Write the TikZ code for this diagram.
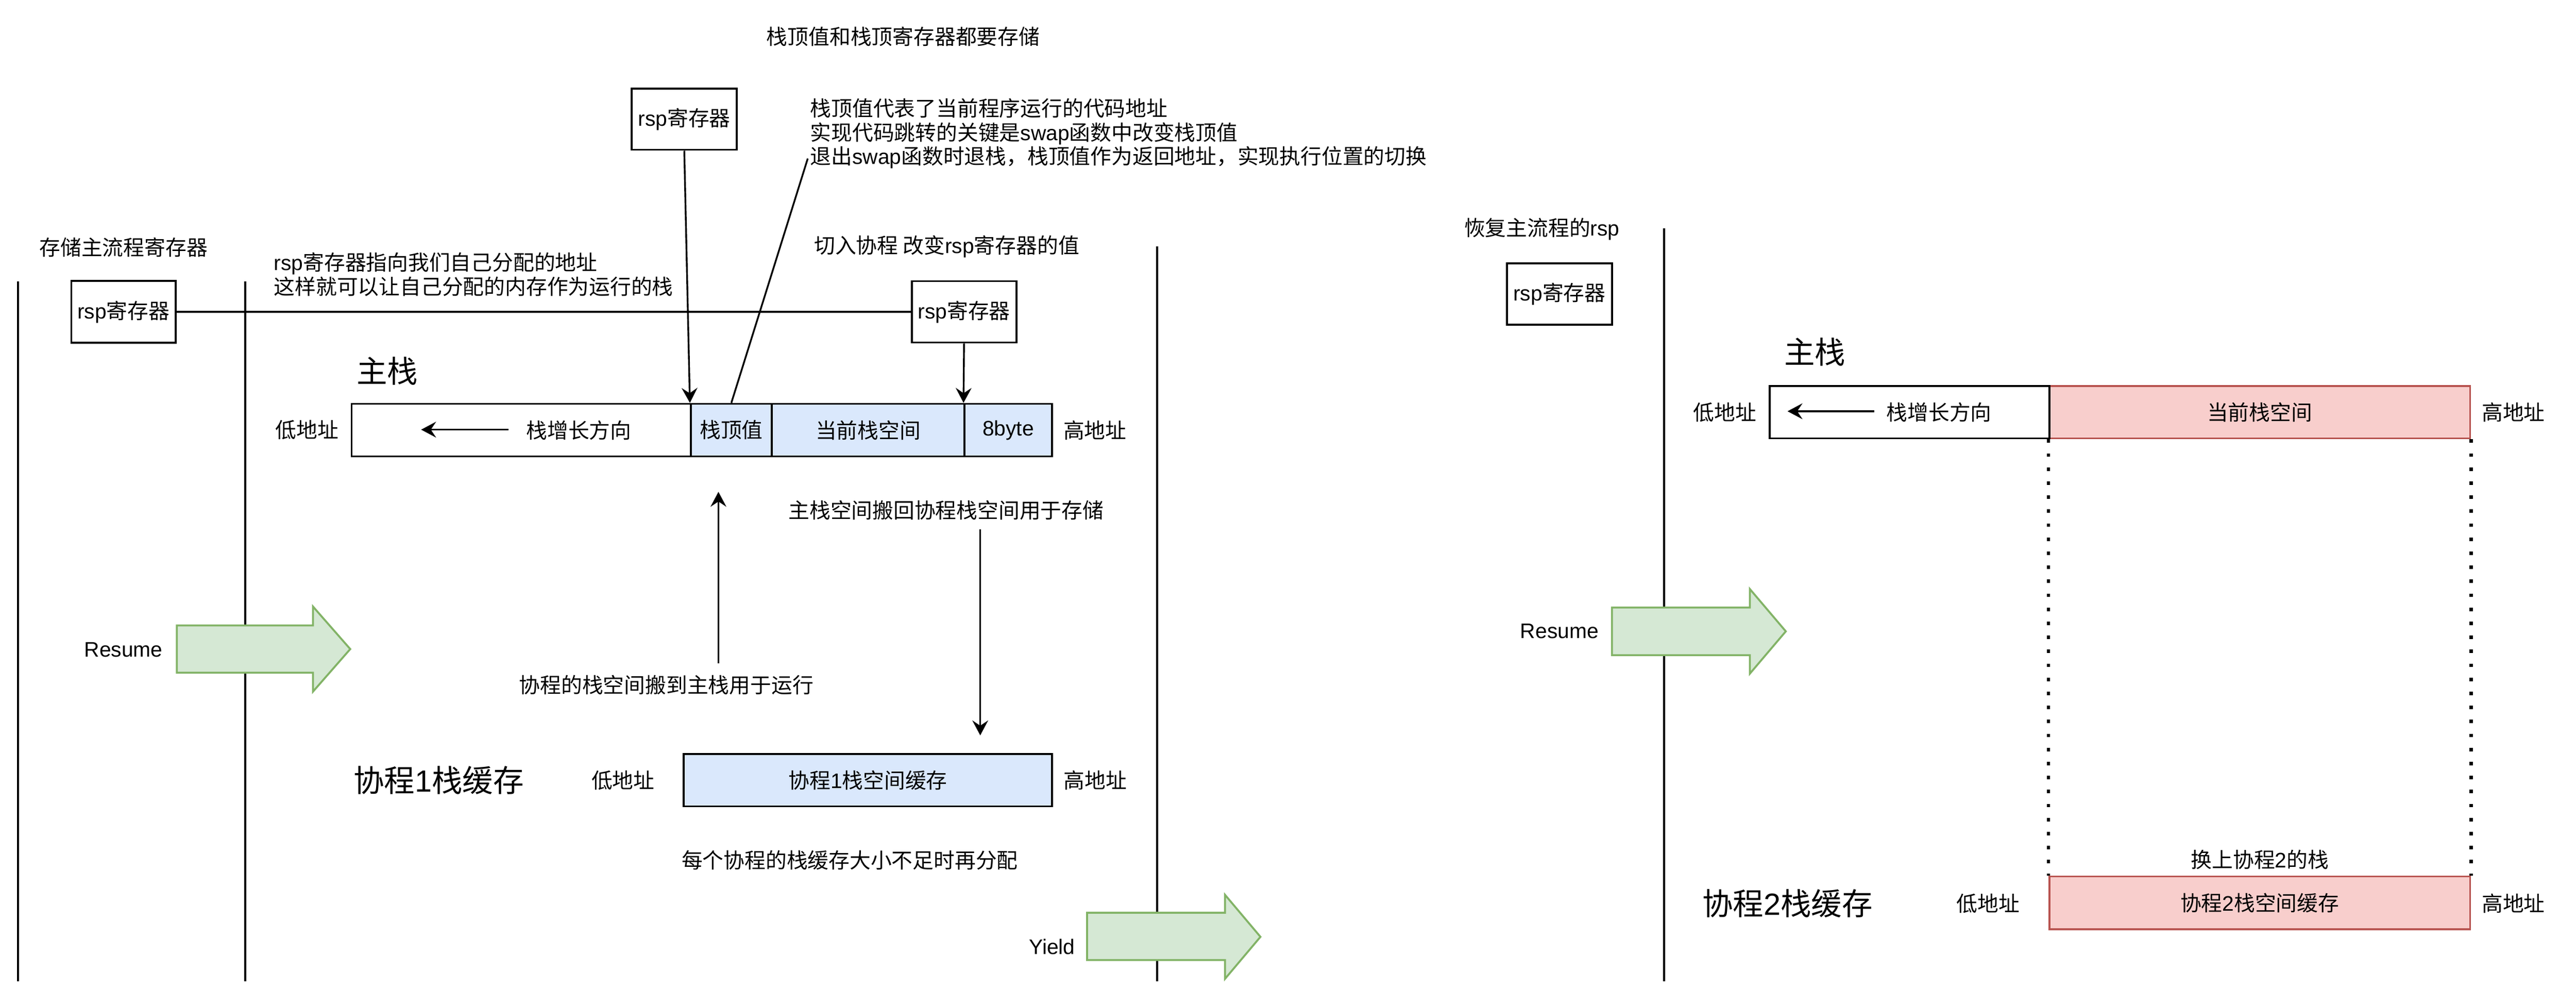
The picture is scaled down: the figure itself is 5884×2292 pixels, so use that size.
\documentclass[tikz,border=0pt]{standalone}
\usepackage{fontspec}
\setmainfont{Noto Sans CJK SC}
\newfontfamily\latfont{Liberation Sans}
\usetikzlibrary{arrows.meta}
\newcommand\LS[1]{{\latfont #1}}
\definecolor{bluefill}{HTML}{DAE8FC}
\definecolor{redfill}{HTML}{F8CECC}
\definecolor{redline}{HTML}{B85450}
\definecolor{greenfill}{HTML}{D5E8D4}
\definecolor{greenline}{HTML}{82B366}
\begin{document}
\begin{tikzpicture}[x=0.25pt,y=-0.25pt,
  txt/.style={inner sep=0pt, font=\fontsize{12}{13.75}\selectfont, align=center},
  lefttxt/.style={inner sep=0pt, font=\fontsize{12}{13.75}\selectfont, align=left, anchor=west},
  big/.style={inner sep=0pt, font=\fontsize{17.5}{21}\selectfont},
  cell/.style={draw, line width=1.1pt, inner sep=0pt, font=\fontsize{12}{14}\selectfont},
  wh/.style 2 args={minimum width=#1*0.25pt, minimum height=#2*0.25pt},
  conn/.style={line width=1pt},
  arr/.style={line width=1pt, -{Stealth[length=8.5pt,width=9pt,inset=3pt]}},
  garrow/.style={fill=greenfill, draw=greenline, line width=1.1pt},
  dotline/.style={line width=2pt, dash pattern=on 2pt off 6pt}
]
\useasboundingbox (0,0) rectangle (5884,2292);

% ---------------- vertical separators ----------------
\coordinate (v1t) at (41,642);   \coordinate (v1b) at (41,2240);
\coordinate (v2t) at (560,642);  \coordinate (v2b) at (560,2240);
\coordinate (v3t) at (2643,562); \coordinate (v3b) at (2643,2240);
\coordinate (v4t) at (3801,521); \coordinate (v4b) at (3801,2240);
\draw[conn] (v1t) -- (v1b);
\draw[conn] (v2t) -- (v2b);
\draw[conn] (v3t) -- (v3b);
\draw[conn] (v4t) -- (v4b);

% ---------------- left part: texts ----------------
\node[txt] (title) at (2063,84) {栈顶值和栈顶寄存器都要存储};
\node[lefttxt] (note) at (1850,305) {栈顶值代表了当前程序运行的代码地址\\实现代码跳转的关键是\LS{swap}函数中改变栈顶值\\退出\LS{swap}函数时退栈，栈顶值作为返回地址，实现执行位置的切换};
\node[txt] (savemain) at (282,565) {存储主流程寄存器};
\node[lefttxt] (rspnote) at (625,627) {\LS{rsp}寄存器指向我们自己分配的地址\\这样就可以让自己分配的内存作为运行的栈};
\node[lefttxt] (switchin) at (1859,563) {切入协程 改变\LS{rsp}寄存器的值};

% rsp boxes
\node[cell, wh={240}{140}] (rspT) at (1563,272) {\LS{rsp}寄存器};
\node[cell, wh={238}{141}] (rspL) at (282,712) {\LS{rsp}寄存器};
\node[cell, wh={239}{140}] (rspR) at (2202,712) {\LS{rsp}寄存器};

% main stack
\node[big, anchor=west] (mainlbl) at (814,847) {主栈};
\node[cell, wh={775}{120}, fill=white] (s1) at (1190.5,982) {};
\node[cell, wh={185}{120}, fill=bluefill] (s2) at (1670.5,982) {栈顶值};
\node[cell, wh={440}{120}, fill=bluefill] (s3) at (1983,982) {当前栈空间};
\node[cell, wh={200}{120}, fill=bluefill] (s4) at (2303,982) {\LS{8byte}};
\node[txt] (growL) at (1322,982) {栈增长方向};
\node[txt] (lowL) at (701,982) {低地址};
\node[txt] (highL) at (2501,982) {高地址};
\coordinate (ga1) at (1161,981); \coordinate (ga2) at (962,981);
\draw[arr] (ga1) -- (ga2);

% connectors
\draw[conn] (rspL.east) -- (rspR.west);
\draw[arr] (rspT.south) -- (s2.north west);
\draw[arr] (rspR.south) -- (s4.north west);
\coordinate (noteend) at (1845,362);
\draw[conn] (noteend) -- (s2.north);

% copy arrows
\coordinate (upS) at (1641,1514); \coordinate (upE) at (1641,1123);
\draw[arr] (upS) -- (upE);
\coordinate (dnS) at (2239,1209); \coordinate (dnE) at (2239,1679);
\draw[arr] (dnS) -- (dnE);
\node[txt] (backnote) at (2161,1165) {主栈空间搬回协程栈空间用于存储};
\node[txt] (runnote) at (1522,1564) {协程的栈空间搬到主栈用于运行};

% resume arrow 1
\draw[garrow] (404,1428) -- (715,1428) -- (715,1385) -- (800,1482) -- (715,1579) -- (715,1536) -- (404,1536) -- cycle;
\node[txt] (resume1) at (282,1484) {\LS{Resume}};

% coroutine 1 cache
\node[big] (co1lbl) at (1002,1782) {协程\LS{1}栈缓存};
\node[txt] (lowC1) at (1423,1782) {低地址};
\node[cell, wh={841}{119}, fill=bluefill] (c1) at (1982.5,1781.5) {协程\LS{1}栈空间缓存};
\node[txt] (highC1) at (2502,1782) {高地址};
\node[txt] (realloc) at (1941,1964) {每个协程的栈缓存大小不足时再分配};

% yield arrow
\draw[garrow] (2483,2084) -- (2798,2084) -- (2798,2043) -- (2879,2139) -- (2798,2235) -- (2798,2192) -- (2483,2192) -- cycle;
\node[txt] (yield) at (2403,2162) {\LS{Yield}};

% ---------------- right part ----------------
\node[txt] (restore) at (3522,523) {恢复主流程的\LS{rsp}};
\node[cell, wh={240}{140}] (rspX) at (3562,671) {\LS{rsp}寄存器};
\node[big, anchor=west] (mainlbl2) at (4075,804) {主栈};
\node[txt] (lowR) at (3940,941) {低地址};
\node[cell, wh={961}{120}, fill=redfill, draw=redline] (r2) at (5161.5,941) {当前栈空间};
\node[cell, wh={639}{120}, fill=white] (r1) at (4361.5,941) {};
\node[txt] (growR) at (4429,941) {栈增长方向};
\node[txt] (highR) at (5741,941) {高地址};
\coordinate (gb1) at (4281,939); \coordinate (gb2) at (4083,939);
\draw[arr] (gb1) -- (gb2);

\node[cell, wh={961}{121}, fill=redfill, draw=redline] (c2) at (5161.5,2061.5) {协程\LS{2}栈空间缓存};
\draw[dotline] (r2.south west) -- (c2.north west);
\draw[dotline] (r2.south east) -- (c2.north east);
\node[txt] (swapin) at (5162,1963) {换上协程\LS{2}的栈};
\node[big] (co2lbl) at (4083,2063) {协程\LS{2}栈缓存};
\node[txt] (lowC2) at (4541,2063) {低地址};
\node[txt] (highC2) at (5741,2063) {高地址};

% resume arrow 2
\draw[garrow] (3682,1387) -- (3997,1387) -- (3997,1345) -- (4079,1441.5) -- (3997,1538) -- (3997,1496) -- (3682,1496) -- cycle;
\node[txt] (resume2) at (3562,1441) {\LS{Resume}};
\end{tikzpicture}
\end{document}
